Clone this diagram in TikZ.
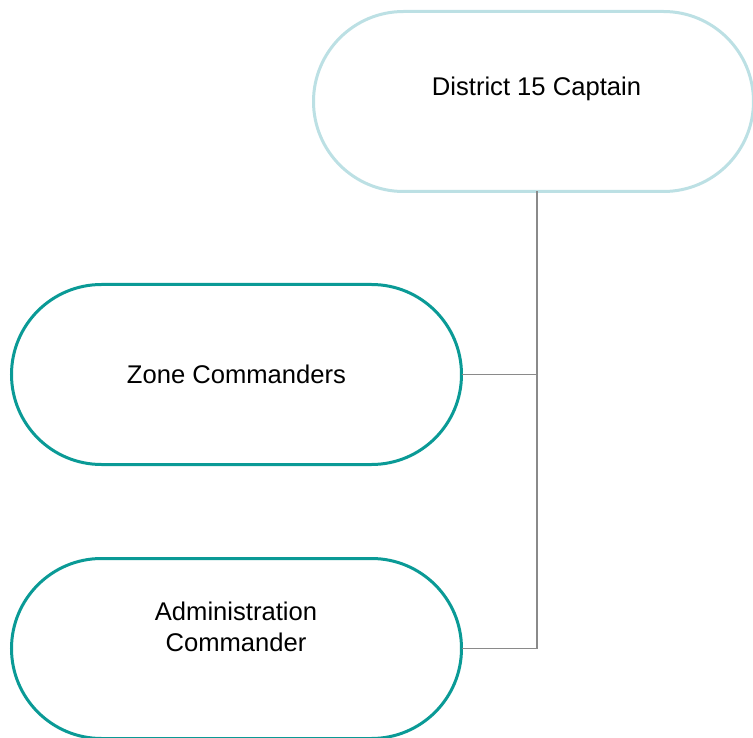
\documentclass[tikz,border=0pt]{standalone}
\usepackage{fontspec}
\setmainfont{Liberation Sans}
\definecolor{lightteal}{HTML}{BCE0E4}
\definecolor{teal2}{HTML}{0A9A96}
\definecolor{conn}{HTML}{8A8A8A}
\begin{document}
\begin{tikzpicture}[x=1pt,y=-1pt,
  pill/.style={draw, line width=3pt, fill=white, rounded corners=90pt,
    minimum height=180pt, inner sep=0pt, outer sep=0pt},
  label text/.style={font=\fontsize{25.6}{30.5}\selectfont, inner sep=0pt, align=center, anchor=base},
  connector/.style={draw=conn, line width=1.3pt}]
\useasboundingbox (0,0) rectangle (753,738);
\node[pill, draw=lightteal, minimum width=440pt] (cap) at (533.5,101.5) {};
\node[pill, draw=teal2, minimum width=450pt] (zone) at (236.5,374.5) {};
\node[pill, draw=teal2, minimum width=450pt] (admin) at (236.5,648.5) {};
\node[label text] (captext) at (536.5,96) {District 15 Captain};
\node[label text] (zonetext) at (236.5,384) {Zone Commanders};
\node[label text] (admintext) at (236,651) {Administration\\Commander};
\coordinate (trunk) at (537,648.5);
\draw[connector] (cap.south -| trunk) -- (trunk) -- (admin.east);
\draw[connector] (zone.east) -- (zone.east -| trunk);
\end{tikzpicture}
\end{document}
